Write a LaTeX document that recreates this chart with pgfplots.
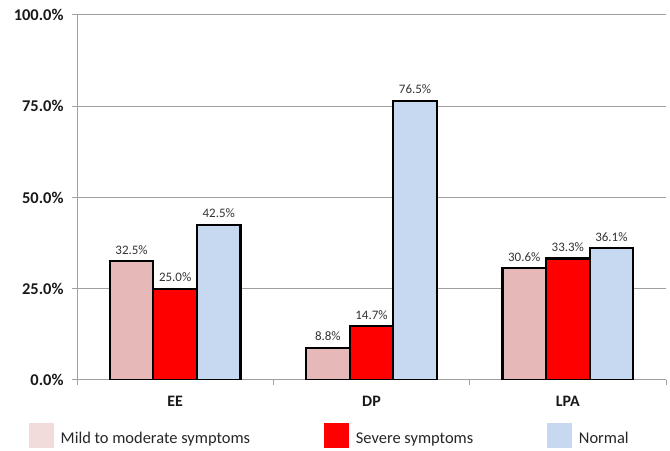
\documentclass[border=0pt]{standalone}
\usepackage{pgfplots}
\pgfplotsset{compat=1.18}
\usepackage{fontspec}
\setmainfont{Carlito}
\definecolor{barpink}{RGB}{230,184,183}
\definecolor{legpink}{RGB}{242,220,219}
\definecolor{barred}{RGB}{255,0,0}
\definecolor{barblue}{RGB}{198,217,241}
\definecolor{gridgray}{RGB}{160,160,160}
\begin{document}
\begin{tikzpicture}[x=1bp,y=1bp]
\useasboundingbox (0,0) rectangle (670,451);
\begin{axis}[
  at={(77bp,71bp)}, anchor=south west,
  scale only axis, width=589bp, height=365bp,
  ybar=0pt, bar width=43.6bp,
  xmin=-0.5, xmax=2.5, ymin=0, ymax=100,
  xtick={-0.5,0.5,1.5,2.5}, xticklabels={},
  extra x ticks={0,1,2}, extra x tick labels={EE,DP,LPA},
  extra x tick style={major tick length=0pt, grid=none,
    tick label style={font=\bfseries\fontsize{16}{16}\selectfont, text=black!90, yshift=-13bp}},
  ytick={0,25,50,75,100},
  yticklabels={0.0\%,25.0\%,50.0\%,75.0\%,100.0\%},
  yticklabel style={font=\bfseries\fontsize{16.5}{16.5}\selectfont, text=black!90, xshift=-5bp},
  axis x line=bottom, axis y line=left,
  axis line style={-, draw=gridgray, line width=1bp},
  tick align=outside, major tick length=5bp,
  tick style={draw=gridgray, line width=1bp},
  ymajorgrids, grid style={draw=gridgray, line width=1bp},
  nodes near coords={\pgfmathprintnumber[fixed,fixed zerofill,precision=1,assume math mode=true]{\pgfplotspointmeta}\%},
  nodes near coords style={font=\fontsize{13}{13}\selectfont, text=black!80, anchor=south, inner sep=0pt, yshift=6bp},
  legend columns=3,
  legend style={at={(axis description cs:-0.0815,-0.186)}, anchor=south west,
    draw=none, fill=none, inner sep=0pt, outer sep=0pt,
    nodes={inner sep=0pt, outer sep=0pt},
    font=\fontsize{16.5}{16.5}\selectfont, text=black!85,
    /tikz/every odd column/.append style={column sep=6.5bp},
    /tikz/every even column/.append style={column sep=74bp},
    /tikz/column 4/.append style={column sep=79bp}},
  legend cell align=left,
]
\addplot[fill=barpink, draw=black, line width=2.2bp,
  legend image code/.code={\fill[legpink] (0bp,-8bp) rectangle (23bp,15bp);}]
  coordinates {(0,32.5) (1,8.8) (2,30.6)};
\addplot[fill=barred, draw=black, line width=2.2bp,
  legend image code/.code={\fill[barred] (0bp,-8bp) rectangle (23bp,15bp);}]
  coordinates {(0,25.0) (1,14.7) (2,33.3)};
\addplot[fill=barblue, draw=black, line width=2.2bp,
  legend image code/.code={\fill[barblue] (0bp,-8bp) rectangle (23bp,15bp);}]
  coordinates {(0,42.5) (1,76.5) (2,36.1)};
\legend{Mild to moderate symptoms, Severe symptoms, Normal}
\end{axis}
\end{tikzpicture}
\end{document}
